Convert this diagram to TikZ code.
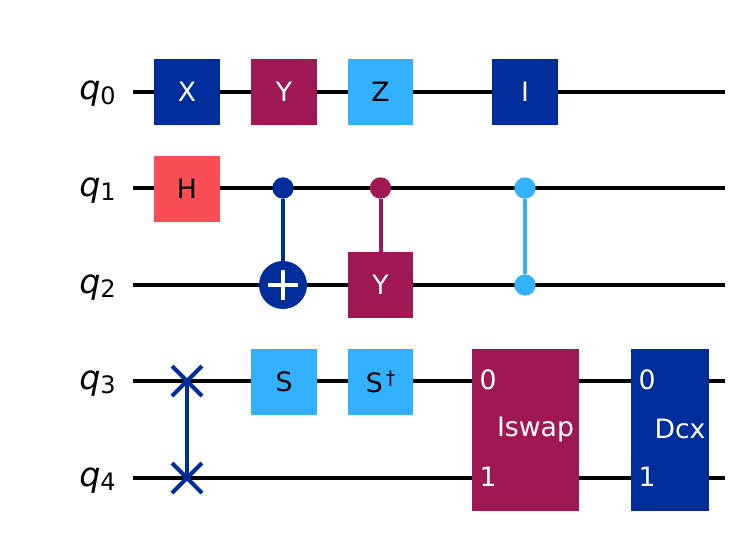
\documentclass[tikz,border=0pt]{standalone}
\usepackage{fontspec}
\setmainfont{DejaVu Sans}
\usetikzlibrary{positioning}
\definecolor{gateblue}{HTML}{002D9C}
\definecolor{gatemagenta}{HTML}{9F1853}
\definecolor{gatesky}{HTML}{33B1FF}
\definecolor{gatered}{HTML}{FA4D56}
\tikzset{
  wire/.style={line width=3pt,black},
  gatebox/.style={rectangle,inner sep=0pt,minimum width=49.5pt,minimum height=49.5pt,font=\fontsize{20}{22}\selectfont},
  portlabel/.style={inner sep=0pt,text=white,font=\fontsize{20}{22}\selectfont},
  wirelabel/.style={inner sep=0pt,anchor=base east,font=\fontsize{25}{28}\selectfont},
  dotnode/.style={circle,inner sep=0pt,minimum size=16pt},
  link/.style={line width=3pt},
}
\newcommand{\wirename}[1]{\textit{q}\raisebox{-3.6pt}{\fontsize{18}{20}\selectfont #1}}
\begin{document}
\begin{tikzpicture}[x=0.75pt,y=-0.75pt]
      \useasboundingbox (0,0) rectangle (748,551);

      % Wires and their labels
      \foreach \w/\y in {0/91.5,1/188,2/285,3/381,4/478} {
        \coordinate (W\w s) at (133,\y);
        \coordinate (W\w e) at (725,\y);
        \draw[wire] (W\w s) -- (W\w e);
        \node[wirelabel] (L\w) at (116,\y+8) {\wirename{\w}};
      }

      % Single qubit gates
      \node[gatebox,fill=gateblue,text=white] (GX) at (187,92) {X};
      \node[gatebox,fill=gatemagenta,text=white] (GY) at (284,92) {Y};
      \node[gatebox,fill=gatesky,minimum width=48.75pt] (GZ) at (380.5,92) {Z};
      \node[gatebox,fill=gateblue,text=white] (GI) at (525,92) {I};
      \node[gatebox,fill=gatered] (GH) at (187,189) {H};
      \node[gatebox,fill=gatesky] (GS) at (284,382) {S};
      \node[gatebox,fill=gatesky,minimum width=48.75pt] (GSdg) at (380.5,382) {S\raisebox{6pt}{\fontsize{14}{16}\selectfont\,†}};

      % CX
      \node[dotnode,fill=gateblue] (CXc) at (283,188) {};
      \node[circle,fill=gateblue,inner sep=0pt,minimum size=36pt] (CXt) at (283,285) {};
      \draw[link,gateblue] (CXc) -- (CXt);
      \draw[white,link] (CXt) ++(-15,0) -- ++(30,0);
      \draw[white,link] (CXt) ++(0,-15) -- ++(0,30);

      % CY
      \node[dotnode,fill=gatemagenta] (CYc) at (380.5,188) {};
      \node[gatebox,fill=gatemagenta,text=white,minimum width=48.75pt] (CYt) at (380.5,285) {Y};
      \draw[link,gatemagenta] (CYc) -- (CYt);

      % CZ
      \node[dotnode,fill=gatesky] (CZa) at (525,188) {};
      \node[dotnode,fill=gatesky] (CZb) at (525,285) {};
      \draw[link,gatesky] (CZa) -- (CZb);

      % Swap
      \coordinate (SWa) at (187,381);
      \coordinate (SWb) at (187,478);
      \draw[link,gateblue] (SWa) -- (SWb);
      \foreach \p in {SWa,SWb} {
        \draw[link,gateblue] (\p) ++(-15,-15) -- ++(30,30);
        \draw[link,gateblue] (\p) ++(-15,15) -- ++(30,-30);
      }

      % Two qubit boxes
      \node[rectangle,inner sep=0pt,fill=gatemagenta,minimum width=80.25pt,minimum height=121.5pt] (ISW) at (525.5,430) {};
      \node[portlabel] (ISWa) at (488,380) {0};
      \node[portlabel] (ISWb) at (488,477) {1};
      \node[portlabel] (ISWn) at (535.5,430) {Iswap};

      \node[rectangle,inner sep=0pt,fill=gateblue,minimum width=58.5pt,minimum height=121.5pt] (DCX) at (670,430) {};
      \node[portlabel] (DCXa) at (647,380) {0};
      \node[portlabel] (DCXb) at (647,477) {1};
      \node[portlabel] (DCXn) at (680,429) {Dcx};
    \end{tikzpicture}
\end{document}
